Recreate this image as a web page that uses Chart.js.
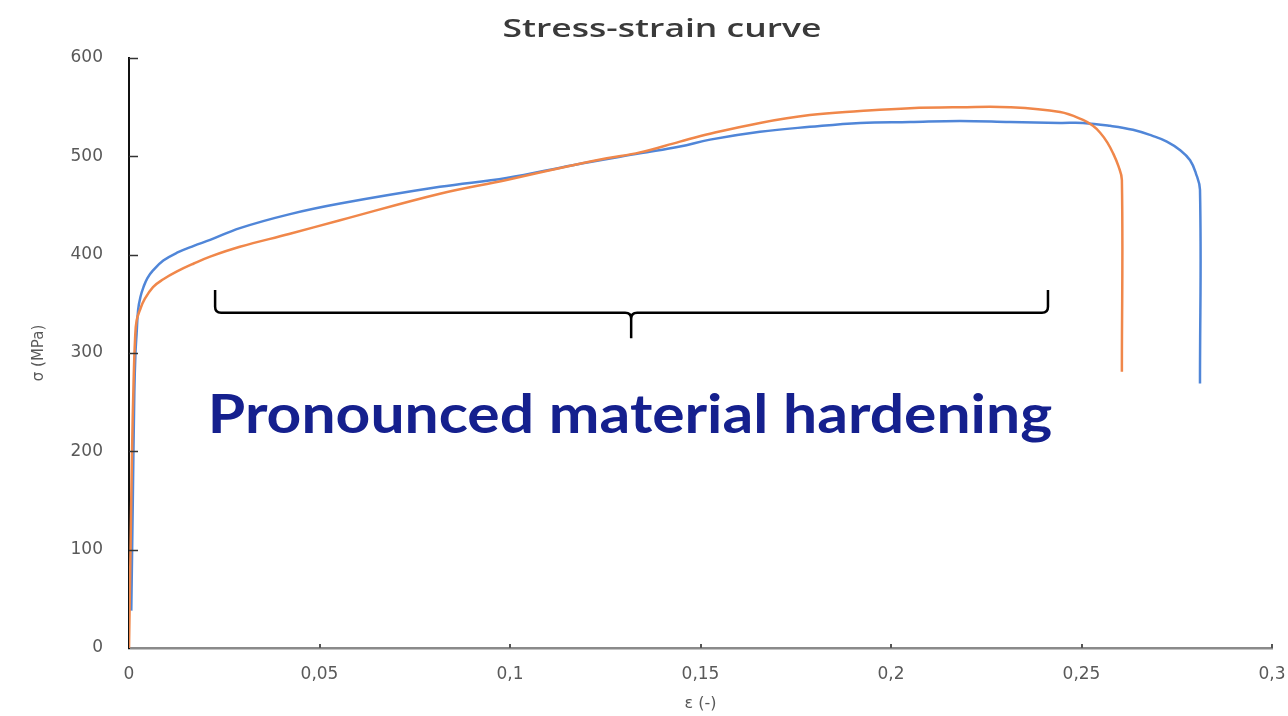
<!DOCTYPE html>
<html>
<head>
<meta charset="utf-8">
<script src="https://cdn.jsdelivr.net/npm/chart.js@4"></script>
<style>
  html, body { margin: 0; padding: 0; background: #ffffff; }
  #wrap { width: 1288px; height: 716px; position: relative; }
</style>
</head>
<body>
<div id="wrap"><canvas id="c" width="1288" height="716"></canvas></div>
<script>
// ---- data ----
const chartTitle = 'Stress-strain curve';
const xAxisTitle = 'ε (-)';
const yAxisTitle = 'σ (MPa)';
const annotationText = 'Pronounced material hardening';

const xTickValues = [0, 0.05, 0.1, 0.15, 0.2, 0.25, 0.3];
const xTickLabels = ['0', '0,05', '0,1', '0,15', '0,2', '0,25', '0,3'];
const yTickValues = [0, 100, 200, 300, 400, 500, 600];
const yTickLabels = ['0', '100', '200', '300', '400', '500', '600'];

const blueStrain = [0.0006, 0.0010, 0.0014, 0.0017, 0.0020, 0.0024, 0.0030, 0.0038, 0.0048, 0.0063, 0.0090, 0.0126, 0.0170, 0.0213, 0.0291, 0.0420, 0.0554, 0.0816, 0.0991, 0.1165, 0.1341, 0.1446, 0.1525, 0.1656, 0.1787, 0.1919, 0.2050, 0.2181, 0.2312, 0.2444, 0.2504, 0.2575, 0.2635, 0.2685, 0.2724, 0.2760, 0.2785, 0.2800, 0.2811, 0.2811];
const blueStress = [38, 150, 260, 300, 320, 344, 357, 367, 376, 384, 394, 402, 409, 415, 427, 441, 452, 469, 478, 491, 503, 510, 517, 525, 530, 534, 535, 536, 535, 534, 534, 531, 527, 521, 515, 506, 496, 483, 466, 269];

const orangeStrain = [0, 0.0004, 0.0008, 0.0012, 0.0016, 0.0020, 0.0029, 0.0040, 0.0063, 0.0090, 0.0126, 0.0170, 0.0213, 0.0291, 0.0420, 0.0554, 0.0816, 0.0991, 0.1165, 0.1254, 0.1341, 0.1446, 0.1525, 0.1656, 0.1787, 0.1919, 0.2050, 0.2181, 0.2312, 0.2444, 0.2504, 0.2530, 0.2549, 0.2568, 0.2583, 0.2597, 0.2606, 0.2606];
const orangeStress = [0, 100, 200, 270, 315, 333, 344, 354, 367, 375, 383, 391, 398, 408, 421, 435, 462, 476, 491, 498, 504, 515, 523, 534, 542, 546, 549, 550, 550, 545, 537, 531, 524, 514, 503, 490, 476, 281];

// brace annotation (data units): left/centre/right strain, top/line/tip stress
const braceStrain = [0.0226, 0.1318, 0.2412];
const braceStress = [364, 341, 315];
// annotation text extent (data units): left strain, right strain, baseline stress
const labelStrain = [0.0207, 0.2423];
const labelStress = [218.6];

// ---- build ----
const toPoints = (xs, ys) => xs.map((x, i) => ({ x: x, y: ys[i] }));

function fitText(ctx, text, font, color, cx, baseline, targetW) {
  ctx.save();
  ctx.font = font;
  ctx.fillStyle = color;
  ctx.textAlign = 'center';
  ctx.textBaseline = 'alphabetic';
  const w = ctx.measureText(text).width;
  ctx.translate(cx, baseline);
  ctx.scale(targetW / w, 1);
  ctx.fillText(text, 0, 0);
  ctx.restore();
}

const decorPlugin = {
  id: 'decor',
  afterDatasetsDraw(chart) {
    const ctx = chart.ctx;
    const xs = chart.scales.x, ys = chart.scales.y;
    const area = chart.chartArea;

    // inward tick marks
    ctx.save();
    ctx.strokeStyle = '#333333';
    ctx.lineWidth = 1.5;
    yTickValues.forEach(v => {
      if (v === 0) return;
      const py = Math.round(ys.getPixelForValue(v)) + 0.5;
      ctx.beginPath();
      ctx.moveTo(area.left, py);
      ctx.lineTo(area.left + 9, py);
      ctx.stroke();
    });
    ctx.strokeStyle = '#555555';
    ctx.lineWidth = 2;
    xTickValues.forEach(v => {
      if (v === 0) return;
      const px = Math.round(xs.getPixelForValue(v));
      ctx.beginPath();
      ctx.moveTo(px, area.bottom);
      ctx.lineTo(px, area.bottom - 4);
      ctx.stroke();
    });
    ctx.restore();

    // brace
    const xl = xs.getPixelForValue(braceStrain[0]);
    const xc = xs.getPixelForValue(braceStrain[1]);
    const xr = xs.getPixelForValue(braceStrain[2]);
    const yt = ys.getPixelForValue(braceStress[0]);
    const yl = ys.getPixelForValue(braceStress[1]);
    const yp = ys.getPixelForValue(braceStress[2]);
    const r = 6;
    ctx.save();
    ctx.strokeStyle = '#000000';
    ctx.lineWidth = 2.5;
    ctx.lineJoin = 'round';
    ctx.beginPath();
    ctx.moveTo(xl, yt);
    ctx.lineTo(xl, yl - r);
    ctx.quadraticCurveTo(xl, yl, xl + r, yl);
    ctx.lineTo(xc - r, yl);
    ctx.quadraticCurveTo(xc, yl, xc, yl + r);
    ctx.lineTo(xc, yp);
    ctx.moveTo(xc, yl + r);
    ctx.quadraticCurveTo(xc, yl, xc + r, yl);
    ctx.lineTo(xr - r, yl);
    ctx.quadraticCurveTo(xr, yl, xr, yl - r);
    ctx.lineTo(xr, yt);
    ctx.stroke();
    ctx.restore();

    // annotation text
    const lx0 = xs.getPixelForValue(labelStrain[0]);
    const lx1 = xs.getPixelForValue(labelStrain[1]);
    const lb = ys.getPixelForValue(labelStress[0]);
    fitText(ctx, annotationText, 'bold 53px Lato, "Open Sans", sans-serif', '#15208E', (lx0 + lx1) / 2, lb, lx1 - lx0);

    // chart title
    fitText(ctx, chartTitle, '600 25px "Open Sans", Lato, sans-serif', '#3a3a3a', 662, 37, 319);
  }
};

const tickFont = { family: '"DejaVu Sans", sans-serif', size: 17 };

new Chart(document.getElementById('c'), {
  type: 'line',
  data: {
    datasets: [
      {
        label: 'specimen 1',
        data: toPoints(orangeStrain, orangeStress),
        borderColor: '#F0874A',
        borderWidth: 2.5,
        pointRadius: 0,
        tension: 0.4,
        fill: false,
        order: 0
      },
      {
        label: 'specimen 2',
        data: toPoints(blueStrain, blueStress),
        borderColor: '#5086D8',
        borderWidth: 2.5,
        pointRadius: 0,
        tension: 0.4,
        fill: false,
        order: 1
      }
    ]
  },
  options: {
    responsive: false,
    animation: false,
    devicePixelRatio: 1,
    layout: { padding: { top: 58, right: 16, bottom: 0, left: 0 } },
    plugins: {
      legend: { display: false },
      title: { display: false },
      tooltip: { enabled: false }
    },
    scales: {
      x: {
        type: 'linear',
        min: 0,
        max: 0.3,
        afterBuildTicks: s => { s.ticks = xTickValues.map(v => ({ value: v })); },
        afterFit: s => { s.height = 68; s.paddingLeft = 0; s.paddingRight = 0; },
        ticks: {
          callback: (v, i) => xTickLabels[i],
          color: '#595959',
          font: tickFont,
          padding: 16,
          maxRotation: 0,
          autoSkip: false
        },
        grid: { display: true, drawOnChartArea: false, drawTicks: false },
        border: { display: true, color: '#8a8a8a', width: 2.5 },
        title: {
          display: true,
          text: xAxisTitle,
          color: '#595959',
          font: { family: '"DejaVu Sans", sans-serif', size: 16 },
          padding: { top: 0, bottom: 3 }
        }
      },
      y: {
        type: 'linear',
        min: 0,
        max: 600,
        afterBuildTicks: s => { s.ticks = yTickValues.map(v => ({ value: v })); },
        afterFit: s => { s.width = 129; s.paddingTop = 0; s.paddingBottom = 0; },
        ticks: {
          callback: (v, i) => yTickLabels[i],
          color: '#595959',
          font: tickFont,
          padding: 26,
          autoSkip: false
        },
        grid: { display: true, drawOnChartArea: false, drawTicks: false },
        border: { display: true, color: '#111111', width: 2 },
        title: {
          display: true,
          text: yAxisTitle,
          color: '#595959',
          font: { family: '"DejaVu Sans", sans-serif', size: 15 },
          padding: { top: 30, bottom: 0 }
        }
      }
    }
  },
  plugins: [decorPlugin]
});
</script>
</body>
</html>
